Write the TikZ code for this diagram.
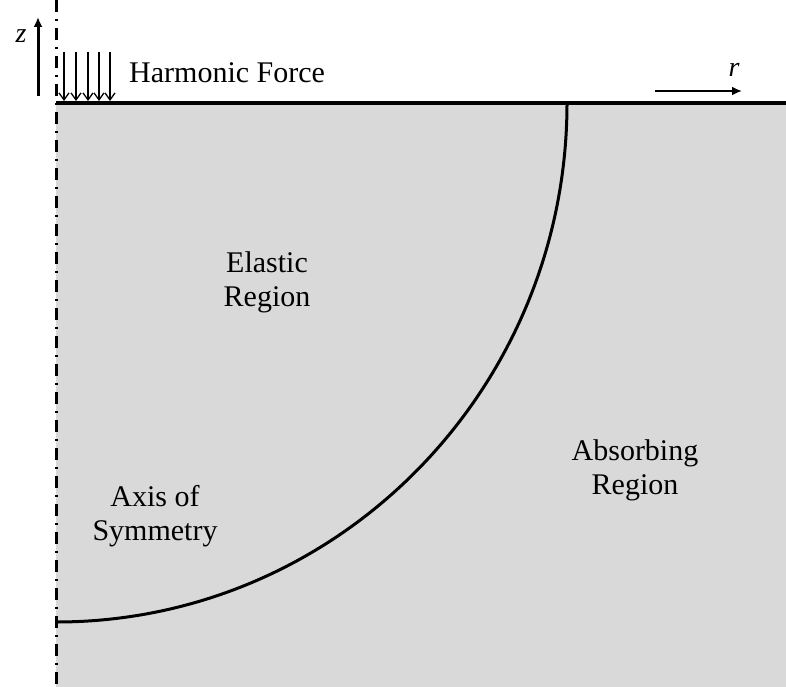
\documentclass[tikz,border=0pt]{standalone}
\usepackage{fontspec}
\setmainfont{Liberation Serif}
\usetikzlibrary{arrows.meta}
\definecolor{regiongray}{RGB}{217,217,217}
\tikzset{
  lbl/.style={font=\fontsize{30}{34}\selectfont, align=center, inner sep=0pt},
  forcearrow/.style={line width=1.3pt, -{Straight Barb[length=7pt,width=10pt]}},
  axisarrow/.style={line width=3pt, -{Latex[length=10pt,width=9pt]}},
}
\begin{document}
\begin{tikzpicture}[x=1pt,y=-1pt]
\useasboundingbox (0,0) rectangle (786,687);
\fill[regiongray] (56,103) rectangle (786,687);
% quarter circle boundary
\draw[line width=3pt] (567,103) arc[start angle=0, end angle=90, x radius=511, y radius=519];
% top surface
\draw[line width=3.5pt] (56,103) -- (786,103);
% axis of symmetry
\draw[line width=3pt, dash pattern=on 12pt off 7pt on 2pt off 7pt] (56,0) -- (56,687);
% z axis arrow
\coordinate (zs) at (38,96);
\coordinate (ze) at (38,17);
\draw[axisarrow] (zs) -- (ze);
\node[lbl, font=\fontsize{28}{30}\selectfont\itshape] (zl) at (21,36) {z};
% r arrow
\coordinate (rs) at (655,91);
\coordinate (re) at (742,91);
\draw[axisarrow, line width=2.6pt] (rs) -- (re);
\node[lbl, font=\fontsize{28}{30}\selectfont\itshape] (rl) at (734,70) {r};
% harmonic force arrows
\foreach \i/\x in {1/64,2/76,3/88,4/99,5/110}{
  \coordinate (fs\i) at (\x,52);
  \coordinate (fe\i) at (\x,101);
  \draw[forcearrow] (fs\i) -- (fe\i);
}
\node[lbl, anchor=west] (hf) at (129,73) {Harmonic Force};
\node[lbl] (el) at (267,282) {Elastic\\Region};
\node[lbl] (ab) at (635,470) {Absorbing\\Region};
\node[lbl] (ax) at (155,516) {Axis of\\Symmetry};
\end{tikzpicture}
\end{document}
